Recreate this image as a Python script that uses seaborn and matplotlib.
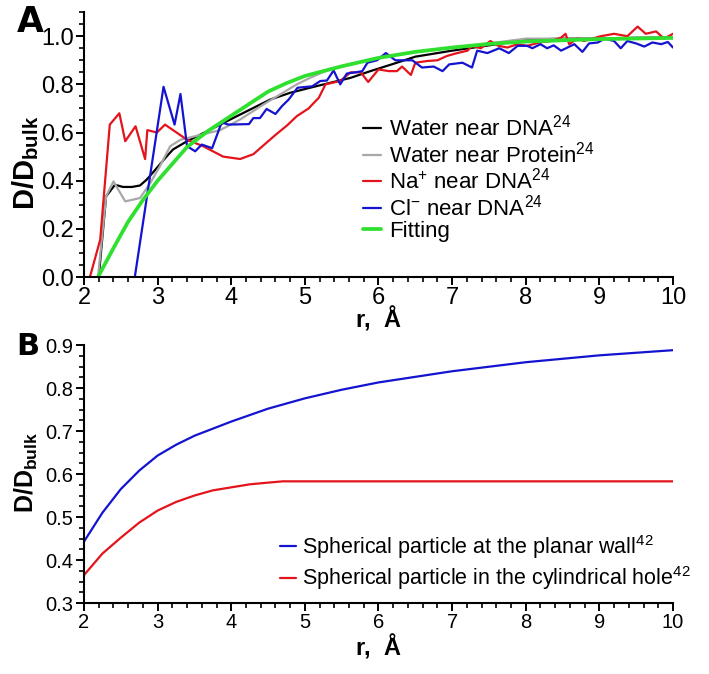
import numpy as np
import pandas as pd
import matplotlib
matplotlib.use("Agg")
import matplotlib.pyplot as plt
from matplotlib.ticker import MultipleLocator
import seaborn as sns

# ---------------- Panel A data ----------------
r_water_dna = [2.20, 2.30, 2.42, 2.53, 2.65, 2.76, 2.85, 2.97, 3.12, 3.21, 3.40, 3.67, 3.94,
               4.26, 4.53, 4.80, 5.07, 5.35, 5.62, 5.89, 6.2, 6.5, 7.0, 7.5, 8.0, 8.5, 9.0, 9.5, 10.0]
d_water_dna = [0, .335, .383, .374, .374, .38, .404, .446, .50, .53, .564, .605, .647,
               .696, .737, .765, .786, .807, .827, .855, .885, .915, .94, .962, .985, .99, .99, .993, .995]

r_water_prot = [2.19, 2.30, 2.40, 2.56, 2.76, 2.90, 3.03, 3.17, 3.31, 3.58, 3.85, 4.12, 4.44,
                4.89, 5.07, 5.35, 5.7, 6.0, 6.5, 7.0, 7.5, 8.0, 8.5, 9.0, 9.5, 10.0]
d_water_prot = [0, .335, .397, .314, .328, .39, .46, .543, .57, .59, .61, .654, .717,
                .80, .827, .865, .89, .91, .935, .953, .97, .99, .99, .99, .995, .995]

r_na = [2.08, 2.22, 2.35, 2.48, 2.56, 2.70, 2.83, 2.86, 2.99, 3.10, 3.40, 3.62, 3.89, 4.12, 4.30,
        4.45, 4.60, 4.76, 4.89, 5.05, 5.19, 5.28, 5.48, 5.62, 5.76, 5.86, 6.00, 6.14, 6.25, 6.32,
        6.44, 6.50, 6.66, 6.80, 6.93, 7.07, 7.21, 7.27, 7.39, 7.52, 7.63, 7.75, 7.89, 8.02, 8.20,
        8.35, 8.48, 8.54, 8.59, 8.70, 8.79, 9.02, 9.20, 9.38, 9.52, 9.63, 9.77, 9.88, 10.0]
d_na = [0, .155, .633, .68, .564, .626, .49, .61, .60, .633, .57, .543, .50, .49, .51,
        .55, .59, .63, .668, .70, .745, .80, .814, .85, .85, .81, .862, .855, .855, .874,
        .839, .89, .897, .90, .918, .93, .94, .96, .95, .98, .96, .953, .967, .96, .975,
        .98, .994, 1.01, .967, .99, .98, 1.0, 1.01, 1.0, 1.04, 1.01, 1.02, .99, 1.01]

r_cl = [2.69, 3.08, 3.23, 3.31, 3.40, 3.51, 3.60, 3.74, 3.87, 3.96, 4.24, 4.30, 4.39, 4.48, 4.60,
        4.69, 4.78, 4.90, 5.10, 5.21, 5.30, 5.39, 5.48, 5.57, 5.69, 5.78, 5.85, 5.98, 6.10, 6.23,
        6.46, 6.59, 6.75, 6.87, 6.96, 7.14, 7.27, 7.34, 7.48, 7.64, 7.77, 7.89, 8.02, 8.09, 8.20,
        8.29, 8.38, 8.48, 8.66, 8.77, 8.86, 8.98, 9.07, 9.20, 9.29, 9.38, 9.50, 9.61, 9.72, 9.84,
        9.93, 10.0]
d_cl = [0, .79, .633, .76, .543, .522, .55, .535, .642, .633, .635, .66, .66, .698, .677,
        .71, .737, .786, .792, .814, .816, .858, .80, .845, .85, .855, .89, .90, .93, .90,
        .90, .87, .874, .855, .883, .89, .87, .94, .93, .95, .93, .96, .96, .95, .967,
        .95, .962, .94, .967, .935, .97, .974, .99, .98, .95, .98, .97, .957, .974, .967,
        .976, .953]

r_fit = [2.19, 2.4, 2.6, 2.8, 3.0, 3.2, 3.4, 3.7, 4.0, 4.25, 4.5, 4.75, 5.0, 5.5, 6.0, 6.5,
         7.0, 7.5, 8.0, 9.0, 10.0]
d_fit = [0, .12, .23, .32, .40, .47, .54, .61, .67, .72, .77, .805, .835, .875, .91, .935,
         .953, .968, .978, .988, .993]

labels_A = ["Water near DNA$^{24}$", "Water near Protein$^{24}$", "Na$^{+}$ near DNA$^{24}$",
            "Cl$^{-}$ near DNA$^{24}$", "Fitting"]
colors_A = ["#000000", "#a8a8a8", "#e3141c", "#1414d0", "#2fe02f"]

# ---------------- Panel B data ----------------
r_wall = [2.0, 2.25, 2.5, 2.75, 3.0, 3.25, 3.5, 4.0, 4.5, 5.0, 5.5, 6.0, 7.0, 8.0, 9.0, 10.0]
d_wall = [.443, .51, .565, .608, .643, .668, .689, .722, .752, .776, .796, .813, .839, .86, .876, .888]

r_hole = [2.0, 2.25, 2.5, 2.75, 3.0, 3.25, 3.5, 3.75, 4.0, 4.25, 4.5, 4.7, 10.0]
d_hole = [.365, .415, .452, .487, .515, .535, .55, .562, .569, .576, .58, .583, .583]

labels_B = ["Spherical particle at the planar wall$^{42}$",
            "Spherical particle in the cylindrical hole$^{42}$"]
colors_B = ["#1414d0", "#e3141c"]

# ---------------- style ----------------
sns.set_theme(style="ticks")
plt.rcParams['font.family'] = ['Liberation Sans', 'DejaVu Sans']
plt.rcParams['text.color'] = 'black'
plt.rcParams['axes.labelcolor'] = 'black'
plt.rcParams['mathtext.fontset'] = 'custom'
plt.rcParams['mathtext.rm'] = 'Liberation Sans'
plt.rcParams['mathtext.bf'] = 'Liberation Sans:bold'
plt.rcParams['mathtext.it'] = 'Liberation Sans:italic'

fig = plt.figure(figsize=(7.09, 6.74), dpi=100)
axA = fig.add_axes([0.1185, 0.589, 0.8307, 0.393])
axB = fig.add_axes([0.1185, 0.1053, 0.8307, 0.3828])

seriesA = [(r_water_dna, d_water_dna), (r_water_prot, d_water_prot), (r_na, d_na),
           (r_cl, d_cl), (r_fit, d_fit)]
for (rr, dd), lab, col in zip(seriesA, labels_A, colors_A):
    lw = 2.7 if lab == "Fitting" else 1.6
    sns.lineplot(x=rr, y=dd, ax=axA, color=col, lw=lw, label=lab, sort=False, estimator=None)

seriesB = [(r_wall, d_wall), (r_hole, d_hole)]
for (rr, dd), lab, col in zip(seriesB, labels_B, colors_B):
    sns.lineplot(x=rr, y=dd, ax=axB, color=col, lw=1.6, label=lab, sort=False, estimator=None)

for ax, ymin, ymax, ymaj, ymin_step, tsize in [(axA, 0, 1.1, 0.2, 0.05, 17),
                                                (axB, 0.3, 0.9, 0.1, 0.025, 14.5)]:
    ax.set_xlim(2, 10)
    ax.set_ylim(ymin, ymax)
    ax.xaxis.set_major_locator(MultipleLocator(1))
    ax.xaxis.set_minor_locator(MultipleLocator(0.2))
    ax.yaxis.set_major_locator(MultipleLocator(ymaj))
    ax.yaxis.set_minor_locator(MultipleLocator(ymin_step))
    for s in ["top", "right"]:
        ax.spines[s].set_visible(False)
    for s in ["left", "bottom"]:
        ax.spines[s].set_linewidth(1.5)
        ax.spines[s].set_color("black")
    ax.tick_params(which="major", length=6, width=1.4, color="black", labelcolor="black",
                   labelsize=tsize, pad=1.5)
    ax.tick_params(which="minor", length=3.5, width=1.2, color="black")

axA.set_ylabel(r"$\mathbf{D/D_{bulk}}$", fontsize=21, ha="center", va="center")
axA.yaxis.set_label_coords(-0.10, 0.43)
axA.set_xlabel("r,  Å", fontsize=17, fontweight="bold", va="center")
axA.xaxis.set_label_coords(0.5, -0.162)

axB.set_ylabel(r"$\mathbf{D/D_{bulk}}$", fontsize=18, ha="center", va="center")
axB.yaxis.set_label_coords(-0.097, 0.508)
axB.set_xlabel("r,  Å", fontsize=17, fontweight="bold", va="center")
axB.xaxis.set_label_coords(0.5, -0.174)

axA.legend(loc="center left", bbox_to_anchor=(0.474, 0.372), frameon=False, fontsize=16,
           handlelength=0.8, handletextpad=0.35, labelspacing=0.03, borderpad=0,
           borderaxespad=0)
axB.legend(loc="center left", bbox_to_anchor=(0.333, 0.157), frameon=False, fontsize=15.5,
           handlelength=0.75, handletextpad=0.25, labelspacing=0.15, borderpad=0,
           borderaxespad=0)

fig.text(30 / 709, 1 - 22 / 674, "A", fontsize=25, fontweight="heavy", family="DejaVu Sans",
         ha="center", va="center")
fig.text(28 / 709, 1 - 347 / 674, "B", fontsize=22, fontweight="heavy", family="DejaVu Sans",
         ha="center", va="center")

fig.savefig("out.png", dpi=100)
